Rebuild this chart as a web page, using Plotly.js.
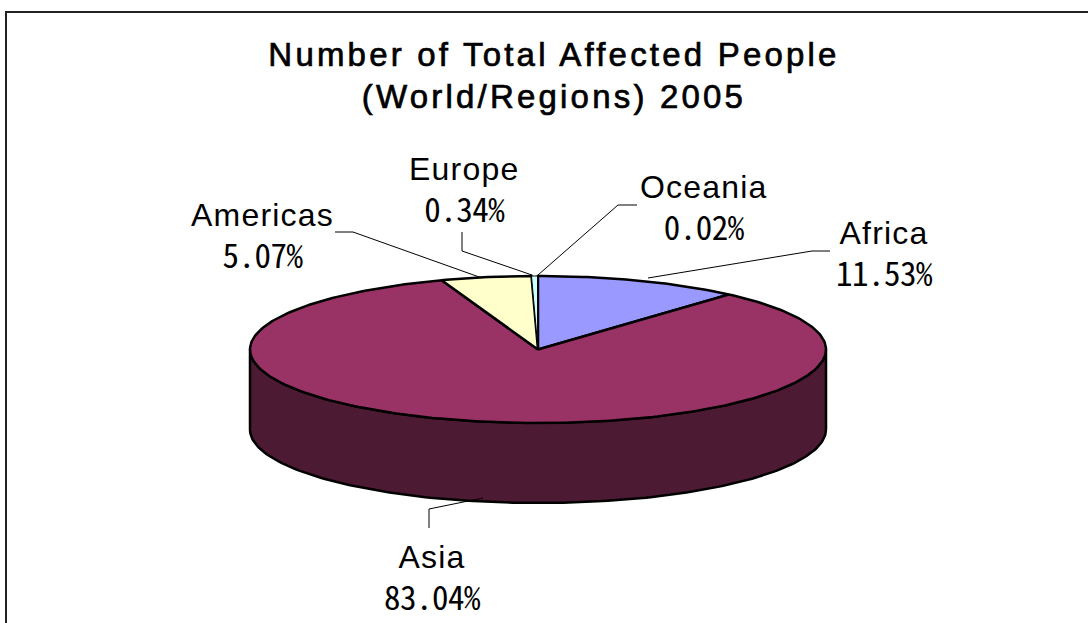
<!DOCTYPE html>
<html>
<head>
<meta charset="utf-8">
<script src="https://cdn.plot.ly/plotly-3.0.1.min.js"></script>
<style>
html,body{margin:0;padding:0;background:#fff;overflow:hidden}
#chart{width:1088px;height:623px}
/* Wide-set, slightly heavy heading; loosely tracked region names */
.gtitle{letter-spacing:3.2px;stroke:#000;stroke-width:0.7px}
.annotation-text{letter-spacing:1.2px}
</style>
</head>
<body>
<div id="chart"></div>
<script>
// Share of total affected people by region, clockwise from twelve o'clock.
const regions = ['Africa', 'Asia', 'Americas', 'Europe', 'Oceania'];
const shares = [11.53, 83.04, 5.07, 0.34, 0.02];
const sliceColors = ['#9999FF', '#993366', '#FFFFCC', '#CCFFFF', '#660066'];
const wallColor = '#4D1A33';

// Disc geometry on a pixel-sized axis pair.
const cx = 538, cy = 349.5, rx = 288, ry = 73.5, depth = 80;

// Label placement: text centre and the leader line from the disc to the text.
const labelAnchors = {
  Africa:   {x: 884, y: 255, leader: [[648, 278], [812, 251], [830, 251]]},
  Asia:     {x: 432, y: 579, leader: [[483, 498], [429, 509], [429, 528]]},
  Americas: {x: 262, y: 237, leader: [[482, 278], [353, 232], [335, 232]]},
  Europe:   {x: 464, y: 191, leader: [[532, 275], [462, 251], [462, 232]]},
  Oceania:  {x: 704, y: 209, leader: [[538, 275], [618, 205], [637, 205]]}
};

const FONT = '"Liberation Sans", Arial, sans-serif';
const PCT_STYLE = "font-family:'Noto Sans CJK JP';font-feature-settings:'hwid';font-size:33px;letter-spacing:-0.5px";

// Point on the disc rim for a clockwise angle (degrees from the top).
function rim(deg, drop) {
  const a = deg * Math.PI / 180;
  return [cx + rx * Math.sin(a), cy - ry * Math.cos(a) + (drop || 0)];
}

// Visible side wall: lower half of the rim, extruded downward.
const wall = {x: [], y: []};
for (let d = 90; d <= 270; d++) { const p = rim(d, depth); wall.x.push(p[0]); wall.y.push(p[1]); }
for (let d = 270; d >= 90; d--) { const p = rim(d, 0); wall.x.push(p[0]); wall.y.push(p[1]); }
wall.x.push(wall.x[0]); wall.y.push(wall.y[0]);

const traces = [{
  type: 'scatter', mode: 'lines', x: wall.x, y: wall.y, fill: 'toself',
  fillcolor: wallColor, line: {color: '#000', width: 2.5}, hoverinfo: 'skip', showlegend: false
}];

// One filled wedge per region, its sweep taken from the share.
const total = shares.reduce((s, v) => s + v, 0);
let start = 0;
regions.forEach((name, i) => {
  const sweep = shares[i] / total * 360;
  const xs = [cx], ys = [cy];
  const steps = Math.max(2, Math.ceil(sweep));
  for (let k = 0; k <= steps; k++) {
    const p = rim(start + sweep * k / steps);
    xs.push(p[0]); ys.push(p[1]);
  }
  xs.push(cx); ys.push(cy);
  traces.push({
    type: 'scatter', mode: 'lines', name, x: xs, y: ys, fill: 'toself',
    fillcolor: sliceColors[i], line: {color: '#000', width: sweep < 2 ? 1 : 2.5},
    text: name + ' ' + shares[i].toFixed(2) + '%', hoverinfo: 'text', hoveron: 'fills', showlegend: false
  });
  start += sweep;
});

const annotations = regions.map((name, i) => ({
  x: labelAnchors[name].x, y: labelAnchors[name].y, xref: 'x', yref: 'y',
  text: name + '<br><span style="' + PCT_STYLE + '">' + shares[i].toFixed(2) + '%</span>',
  showarrow: false, xanchor: 'center', yanchor: 'middle', align: 'center',
  font: {family: FONT, size: 32, color: '#000'}
}));

const shapes = regions.map(name => ({
  type: 'path', xref: 'x', yref: 'y', layer: 'above',
  path: labelAnchors[name].leader.map((p, k) => (k ? 'L' : 'M') + p[0] + ',' + p[1]).join(' '),
  line: {color: '#000', width: 1}
}));

// Chart frame; its right and bottom edges run past the page.
shapes.push({
  type: 'rect', xref: 'x', yref: 'y', layer: 'below',
  x0: 6, y0: 12, x1: 1120, y1: 660, line: {color: '#222', width: 2}, fillcolor: 'rgba(0,0,0,0)'
});

const layout = {
  width: 1088, height: 623,
  margin: {l: 0, r: 0, t: 0, b: 0},
  paper_bgcolor: '#fff', plot_bgcolor: '#fff',
  showlegend: false,
  title: {
    text: 'Number of Total Affected People<br>(World/Regions) 2005',
    x: 554 / 1088, xanchor: 'center', y: 1 - 65.5 / 623, yanchor: 'middle',
    font: {family: FONT, size: 33, color: '#000'}
  },
  xaxis: {range: [0, 1088], visible: false, fixedrange: true},
  yaxis: {range: [623, 0], visible: false, fixedrange: true},
  annotations, shapes
};

Plotly.newPlot('chart', traces, layout, {displayModeBar: false, responsive: false});
</script>
</body>
</html>
